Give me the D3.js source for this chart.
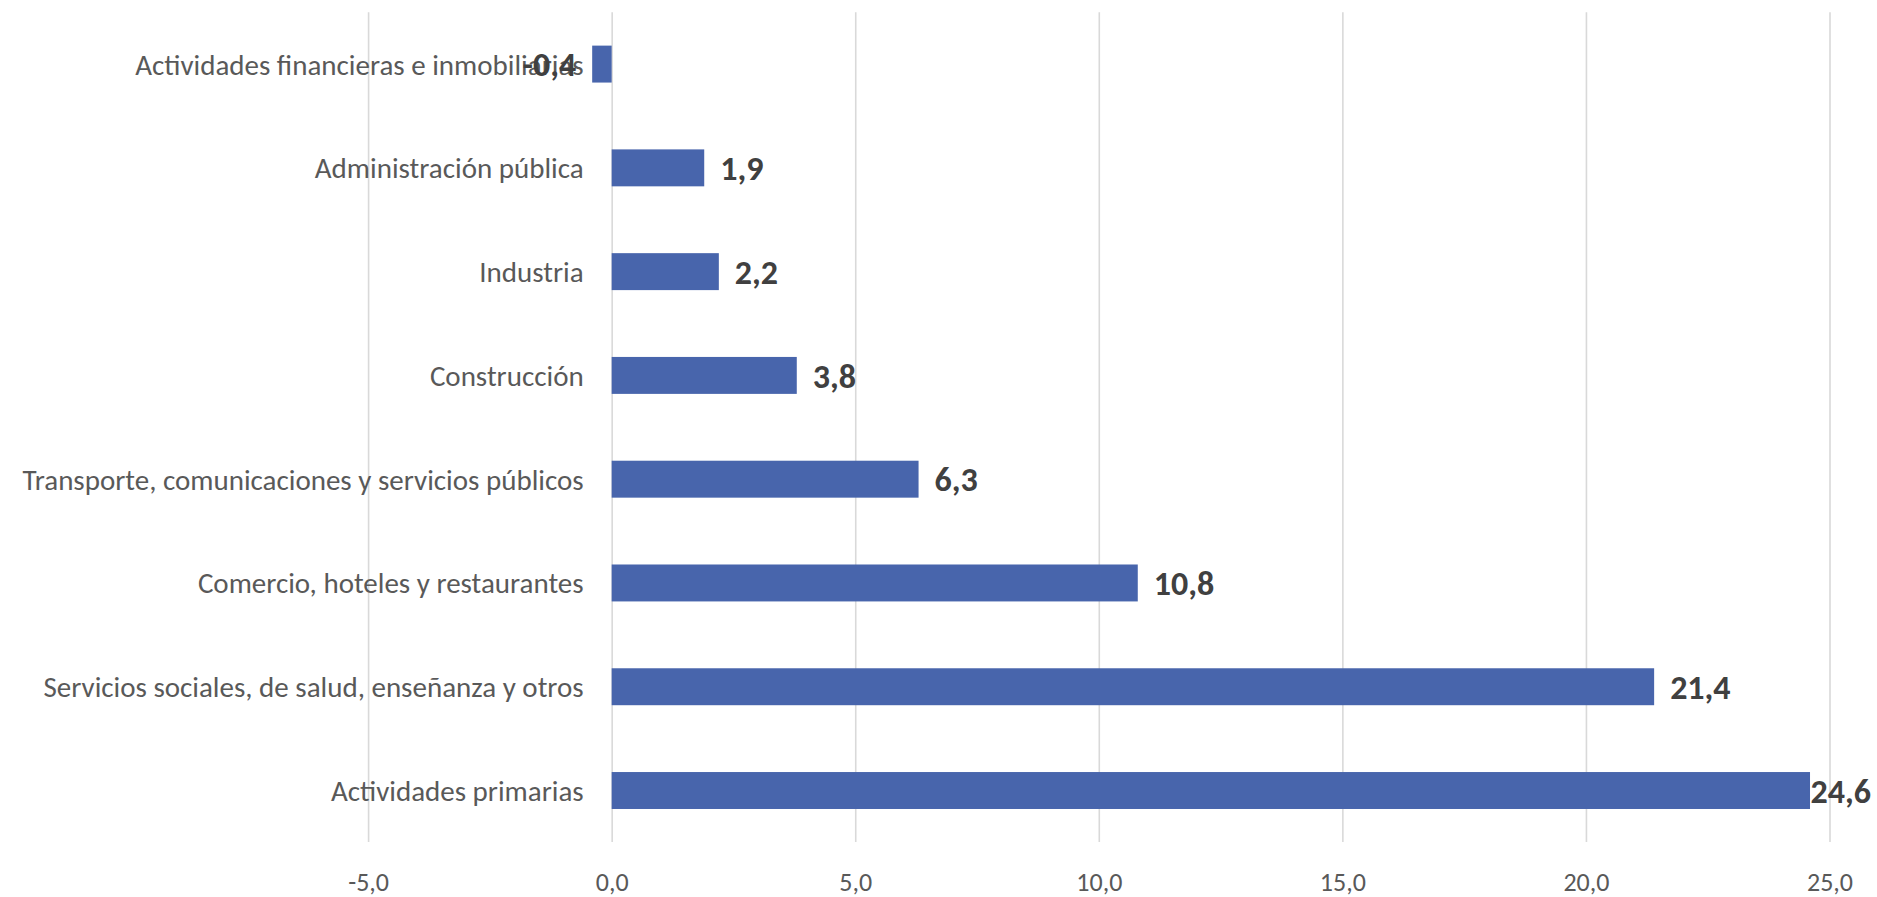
<!DOCTYPE html>
<html>
<head>
<meta charset="utf-8">
<script src="https://cdn.jsdelivr.net/npm/d3@7"></script>
<style>
  html, body { margin: 0; padding: 0; background: #fff; }
  svg { display: block; }
</style>
</head>
<body>
<div id="chart"></div>
<script>
// categories top to bottom, with their values
const categories = [
  "Actividades financieras e inmobiliarias",
  "Administración pública",
  "Industria",
  "Construcción",
  "Transporte, comunicaciones y servicios públicos",
  "Comercio, hoteles y restaurantes",
  "Servicios sociales, de salud, enseñanza y otros",
  "Actividades primarias",
];
const values = [-0.4, 1.9, 2.2, 3.8, 6.3, 10.8, 21.4, 24.6];
const xTicks = [-5, 0, 5, 10, 15, 20, 25];

const width = 1877;
const height = 897;
const font = "Carlito, Lato, 'Open Sans', sans-serif";

const locale = d3.formatLocale({
  decimal: ",",
  thousands: ".",
  grouping: [3],
  currency: ["", "€"],
  minus: "-",
});
const fmt = locale.format(".1f");

const data = categories.map((c, i) => ({ name: c, value: values[i] }));

const x = d3.scaleLinear().domain([-5, 25]).range([368.1, 1829.5]);
const y = d3
  .scaleBand()
  .domain(categories)
  .range([12.2, 842.4])
  .paddingInner(0.644)
  .paddingOuter(0.322);

const svg = d3
  .select("#chart")
  .append("svg")
  .attr("width", width)
  .attr("height", height);

// gridlines + tick labels
const axisY = 842;
const xAxis = svg
  .append("g")
  .attr("transform", `translate(0,${axisY})`)
  .call(
    d3
      .axisBottom(x)
      .tickValues(xTicks)
      .tickSize(-(axisY - 12.2))
      .tickFormat(fmt)
  );
xAxis.select(".domain").remove();
xAxis.selectAll(".tick line").attr("stroke", "#d9d9d9").attr("stroke-width", 1.6);
xAxis
  .selectAll(".tick text")
  .attr("y", 49)
  .attr("dy", 0)
  .attr("fill", "#595959")
  .style("font-family", font)
  .style("font-size", "26px");

// category labels next to the zero line
svg
  .append("g")
  .selectAll("text")
  .data(data)
  .join("text")
  .attr("x", x(0) - 28)
  .attr("y", (d) => y(d.name) + y.bandwidth() / 2)
  .attr("dy", "0.36em")
  .attr("text-anchor", "end")
  .attr("fill", "#595959")
  .style("font-family", font)
  .style("font-size", "29px")
  .text((d) => d.name);

// bars
svg
  .append("g")
  .selectAll("rect")
  .data(data)
  .join("rect")
  .attr("x", (d) => x(Math.min(0, d.value)))
  .attr("y", (d) => y(d.name))
  .attr("width", (d) => Math.abs(x(d.value) - x(0)))
  .attr("height", y.bandwidth())
  .attr("fill", "#4865ac");

// value labels
const labels = svg
  .append("g")
  .selectAll("text")
  .data(data)
  .join("text")
  .attr("y", (d) => y(d.name) + y.bandwidth() / 2)
  .attr("dy", "0.36em")
  .attr("fill", "#404040")
  .attr("font-weight", 700)
  .style("font-family", font)
  .style("font-size", "34px")
  .text((d) => fmt(d.value));

labels.each(function (d) {
  const w = this.getComputedTextLength();
  const gap = 16;
  if (d.value < 0) {
    d3.select(this).attr("x", x(d.value) - gap).attr("text-anchor", "end");
  } else {
    // keep the label inside the picture, as Excel does
    const lx = Math.min(x(d.value) + gap, width - 6 - w);
    d3.select(this).attr("x", lx).attr("text-anchor", "start");
  }
});
</script>
</body>
</html>
